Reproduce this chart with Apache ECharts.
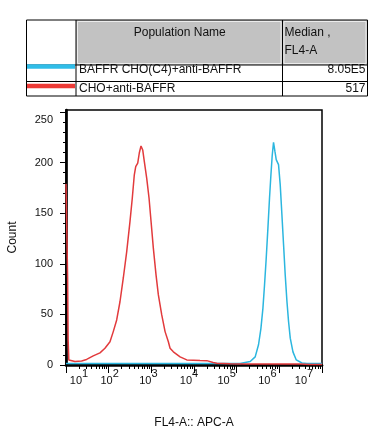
<!DOCTYPE html>
<html><head><meta charset="utf-8">
<script src="https://cdn.jsdelivr.net/npm/echarts@6/dist/echarts.min.js"></script>
<style>html,body{margin:0;padding:0;background:#fff}#c{width:378px;height:442px}</style>
</head><body><div id="c"></div>
<script>
// ---------- data ----------
const populationNames = ['BAFFR CHO(C4)+anti-BAFFR', 'CHO+anti-BAFFR'];
const medianLabels = ['8.05E5', '517'];
const tableHeaders = ['Population Name', 'Median ,', 'FL4-A'];
const xAxisName = 'FL4-A:: APC-A';
const yAxisName = 'Count';
const xDecadeExponents = [1, 2, 3, 4, 5, 6, 7];
const yTicks = [0, 50, 100, 150, 200, 250];

// log10(FL4-A) and counts, BAFFR CHO(C4)+anti-BAFFR
const cyanLogX = [1.0, 2.0, 3.0, 4.0, 5.0, 5.08, 5.317, 5.434, 5.512, 5.568, 5.615, 5.653, 5.692, 5.732, 5.770, 5.803, 5.833, 5.864, 5.897, 5.927, 5.981, 6.021, 6.061, 6.099, 6.138, 6.178, 6.216, 6.256, 6.319, 6.397, 6.531, 6.648, 7.0];
const cyanCount = [1.5, 1.5, 1.5, 1.5, 1.5, 1.5, 3.5, 8, 20, 36, 56, 79, 105, 135, 165, 188, 207, 220, 211, 203, 198, 178, 148, 119, 89, 63, 43, 26.5, 13, 5, 2, 1.5, 1.5];

// log10(FL4-A) and counts, CHO+anti-BAFFR
const redLogX = [1.0, 1.028, 1.038, 1.05, 1.066, 1.08, 1.209, 1.366, 1.483, 1.638, 1.796, 1.913, 2.031, 2.108, 2.188, 2.265, 2.343, 2.423, 2.500, 2.554, 2.601, 2.634, 2.681, 2.718, 2.758, 2.798, 2.836, 2.892, 2.946, 2.993, 3.047, 3.110, 3.164, 3.244, 3.322, 3.399, 3.439, 3.516, 3.674, 3.831, 4.143, 4.300, 4.448, 4.535, 4.847, 5.239, 5.786, 6.490, 6.725, 7.0];
const redCount = [179, 179, 86, 25, 5, 3.5, 3.5, 4, 5.5, 9, 12, 16.5, 23, 33, 44.5, 62.5, 86, 112, 142, 165, 188, 196, 199.5, 209.5, 216.5, 212.5, 201, 184.5, 165, 142, 115.5, 89, 69.5, 49.5, 33, 23, 16.5, 13, 8, 5, 4.5, 4.3, 2.5, 1.8, 1.2, 1, 1, 1, 0.5, 0.5];

// ---------- styling / layout ----------
const FONT = '"Liberation Sans", Arial, sans-serif';
const TXT = '#111';
const CYAN = '#2bb6df';
const RED = '#e23a3c';
const xLabelShift = [13, 1, -3, -5, -10, -12, -18];

const zip = (xs, ys) => xs.map((x, i) => [x, ys[i]]);
const xMinor = [];
for (let d = 1; d < 7; d++) for (let k = 2; k <= 9; k++) xMinor.push(d + Math.log10(k));
const yMinor = [];
for (let v = 10; v < 252; v += 10) if (v % 50 !== 0) yMinor.push(v);

const richX = {};
xLabelShift.forEach((d, i) => {
  richX['b' + i] = { fontSize: 11, fontFamily: FONT, color: TXT, padding: [7, 0, 0, d > 0 ? 2 * d : 0] };
  richX['s' + i] = { fontSize: 11, fontFamily: FONT, color: TXT, padding: [0, d < 0 ? -2 * d : 0, 7, 0] };
});

const gridBox = { left: 66, right: 56, top: 110, bottom: 77, outerBoundsMode: 'none' };

const chart = echarts.init(document.getElementById('c'), null, { renderer: 'canvas' });

// table graphics
const tL = 26.5, tR = 367.5, c1 = 76, c2 = 282.5, rY = [20, 65, 81.5, 96];
const g = [];
const line = (x1, y1, x2, y2, color, w) => g.push({ type: 'line', shape: { x1, y1, x2, y2 }, style: { stroke: color, lineWidth: w }, z: 100 });
const text = (t, x, y, align) => g.push({ type: 'text', z: 101, style: { text: t, x, y, font: '12px ' + FONT, fill: TXT, align, textAlign: align, verticalAlign: 'middle', textVerticalAlign: 'middle' } });
// header gray cells
[[c1, c2], [c2, tR]].forEach(([a, b]) => {
  g.push({ type: 'rect', z: 99, shape: { x: a, y: rY[0], width: b - a, height: rY[1] - rY[0] }, style: { fill: '#c2c2c2' } });
  g.push({ type: 'rect', z: 99, shape: { x: a + 1.5, y: rY[0] + 1.5, width: b - a - 3, height: rY[1] - rY[0] - 3 }, style: { fill: 'none', stroke: '#ececec', lineWidth: 1 } });
});
rY.forEach(y => line(tL, y, tR, y, '#000', 1));
[tL, c1, c2, tR].forEach(x => line(x, rY[0], x, rY[3], '#000', 1));
text(tableHeaders[0], (c1 + c2) / 2 + 0.5, 32.5, 'center');
text(tableHeaders[1], c2 + 2, 32.5, 'left');
text(tableHeaders[2], c2 + 2, 51, 'left');
const rowTextY = [69.5, 88.5];
const legendLineY = [66.5, 86];
const legendColors = ['#30bde8', '#ee3a36'];
populationNames.forEach((n, i) => {
  line(tL + 0.5, legendLineY[i], c1 - 1, legendLineY[i], legendColors[i], 4.5);
  text(n, c1 + 3, rowTextY[i], 'left');
  text(medianLabels[i], tR - 2, rowTextY[i], 'right');
});

const option = {
  animation: false,
  backgroundColor: '#fff',
  grid: [
    Object.assign({ show: true, borderColor: '#000', borderWidth: 1.5 }, gridBox),
    Object.assign({ show: false }, gridBox)
  ],
  xAxis: [
    {
      gridIndex: 0, type: 'value', min: 1, max: 7, position: 'bottom',
      axisLine: { show: true, onZero: false, lineStyle: { color: '#000', width: 2.7 } },
      axisTick: { show: true, customValues: xMinor, length: 4, lineStyle: { color: '#000', width: 1 } },
      axisLabel: { show: false },
      splitLine: { show: false },
      name: xAxisName, nameLocation: 'middle', nameGap: 52,
      nameTextStyle: { fontSize: 12, fontFamily: FONT, color: TXT }
    },
    {
      gridIndex: 1, type: 'value', min: 1, max: 7, position: 'bottom',
      axisLine: { show: false, onZero: false },
      axisTick: { show: true, customValues: xDecadeExponents, length: 8, lineStyle: { color: '#000', width: 1 } },
      axisLabel: {
        show: true, customValues: xDecadeExponents, margin: 3,
        formatter: v => { const i = xDecadeExponents.indexOf(Math.round(v)); return '{b' + i + '|10}{s' + i + '|' + Math.round(v) + '}'; },
        rich: richX
      },
      splitLine: { show: false }
    }
  ],
  yAxis: [
    {
      gridIndex: 0, type: 'value', min: 0, max: 252,
      axisLine: { show: true, onZero: false, lineStyle: { color: '#000', width: 2.7 } },
      axisTick: { show: true, customValues: yTicks, length: 6, lineStyle: { color: '#000', width: 1 } },
      axisLabel: {
        customValues: yTicks, margin: 13, fontSize: 11, fontFamily: FONT, color: TXT,
        formatter: v => v === 250 ? '{t|250}' : String(v),
        rich: { t: { fontSize: 11, fontFamily: FONT, color: TXT, padding: [15, 0, 0, 0] } }
      },
      splitLine: { show: false },
      name: yAxisName, nameLocation: 'middle', nameGap: 47, nameRotate: 90,
      nameTextStyle: { fontSize: 12, fontFamily: FONT, color: TXT }
    },
    {
      gridIndex: 1, type: 'value', min: 0, max: 252,
      axisLine: { show: false },
      axisTick: { show: true, customValues: yMinor, length: 3, lineStyle: { color: '#000', width: 1 } },
      axisLabel: { show: false },
      splitLine: { show: false }
    }
  ],
  series: [
    { name: populationNames[0], type: 'line', xAxisIndex: 0, yAxisIndex: 0, data: zip(cyanLogX, cyanCount), showSymbol: false, symbol: 'none', lineStyle: { color: CYAN, width: 1.5 }, z: 3 },
    { name: populationNames[1], type: 'line', xAxisIndex: 0, yAxisIndex: 0, data: zip(redLogX, redCount), showSymbol: false, symbol: 'none', lineStyle: { color: RED, width: 1.5 }, z: 4 }
  ],
  graphic: g
};
chart.setOption(option);
</script>
</body></html>
